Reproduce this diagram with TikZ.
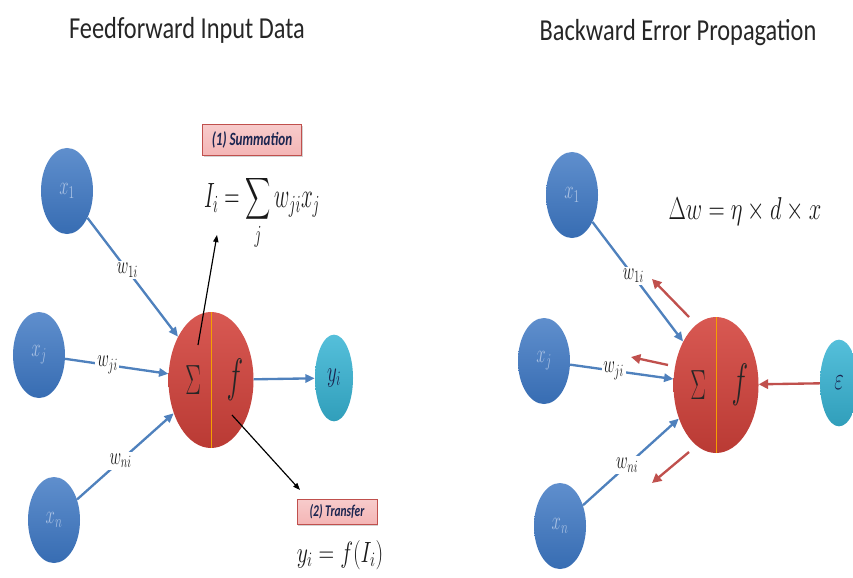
\documentclass[tikz,border=0pt]{standalone}
\usepackage{fix-cm}
\usepackage{amsmath}
\usepackage{graphicx}
\usepackage{fontspec}
\newfontfamily\ttlfont{Carlito}
\usepackage{tikz}
\usetikzlibrary{arrows.meta,positioning,shapes.geometric,calc,shadows}
\definecolor{nnblue}{HTML}{3C76C2}
\definecolor{nnlight}{HTML}{A9C1E3}
\definecolor{nnred}{HTML}{D3423B}
\definecolor{nncyan}{HTML}{37B4D4}
\definecolor{nnnavy}{HTML}{1B2550}
\definecolor{nnline}{HTML}{4F81BD}
\definecolor{nnback}{HTML}{C0504D}
\definecolor{nnorange}{HTML}{F5A000}
\definecolor{nnpink}{HTML}{F4B5B5}
\newcommand{\sq}[2][0.65]{\scalebox{#1}[1]{#2}}
\tikzset{
  ttl/.style={font=\ttlfont\fontsize{26}{28}\selectfont,text=black!85},
  inp/.style={ellipse,minimum width=1.56cm,minimum height=2.58cm,inner sep=0pt,top color=nnblue!82!white,bottom color=nnblue!92!black,text=nnlight,font=\fontsize{22}{24}\selectfont},
  neuron/.style={ellipse,minimum width=2.55cm,minimum height=4.08cm,inner sep=0pt,top color=nnred!88!white,bottom color=nnred!88!black},
  outp/.style={ellipse,minimum width=1.14cm,minimum height=2.6cm,inner sep=0pt,top color=nncyan!85!white,bottom color=nncyan!88!black,text=nnnavy,font=\fontsize{25}{27}\selectfont},
  op/.style={inner sep=0pt,text=black!85},
  divider/.style={draw=nnorange,line width=0.7pt},
  lbl/.style={draw=nnback,thick,top color=nnpink!70!white,bottom color=nnpink,drop shadow={opacity=0.35,shadow xshift=1.2pt,shadow yshift=-1.2pt},text=nnnavy,inner sep=2pt},
  fml/.style={inner sep=0pt,text=black!90},
  wl/.style={fill=white,inner sep=1.5pt,text=black!90,font=\fontsize{21}{23}\selectfont},
  fw/.style={-{Triangle[length=8pt,width=7pt]},draw=nnline,line width=2pt},
  bw/.style={-{Triangle[length=8pt,width=8pt]},draw=nnback,line width=2pt},
  note/.style={-{Triangle[length=6pt,width=4.5pt]},draw=black,line width=1pt},
}
\begin{document}
\begin{tikzpicture}[x=0.03cm,y=0.03cm]
  \useasboundingbox (0,0) rectangle (853,577);
  \clip (0,0) rectangle (853,577);
  % titles
  \node[ttl] (ttlL) at (187,547) {\sq[0.8]{Feedforward Input Data}};
  \node[ttl] (ttlR) at (678,544) {\sq[0.8]{Backward Error Propagation}};

  % feedforward
  \node[inp] (x1L) at (67,386) {\sq{$x_1$}};
  \node[inp] (xjL) at (39,222) {\sq{$x_j$}};
  \node[inp] (xnL) at (54,57) {\sq{$x_n$}};
  \node[neuron] (sumL) at (211,197) {};
  \draw[divider] (sumL.north) -- (sumL.south);
  \node[op,font=\fontsize{36}{38}\selectfont] (sigL) at ([xshift=-0.54cm]sumL.center) {\sq[0.55]{$\Sigma$}};
  \node[op,font=\fontsize{40}{42}\selectfont] (fL) at ([xshift=0.72cm]sumL.center) {\sq[0.6]{$f$}};
  \node[outp] (yiL) at (334,199) {\sq{$y_i$}};
  \draw[fw] (x1L) -- node[wl,pos=0.44] (w1L) {\sq{$w_{1i}$}} (sumL);
  \draw[fw] (xjL) -- node[wl,pos=0.41] (wjL) {\sq{$w_{ji}$}} (sumL);
  \draw[fw] (xnL) -- node[wl,pos=0.45] (wnL) {\sq{$w_{ni}$}} (sumL);
  \draw[fw] (sumL) -- (yiL);

  % summation and transfer notes
  \node[lbl,minimum width=2.95cm,minimum height=0.95cm,font=\ttlfont\bfseries\itshape\fontsize{16}{18}\selectfont] (sumbox) at (252,437) {\sq[0.7]{(1) Summation}};
  \node[fml,font=\fontsize{30}{32}\selectfont] (sumfml) at (262,364) {\sq[0.6]{$\displaystyle I_i=\sum_j w_{ji}x_j$}};
  \coordinate (sumin) at ($(sumL.center)+(-13,35)$);
  \coordinate (sumtip) at (217,342);
  \draw[note] (sumin) -- (sumtip);
  \node[lbl,minimum width=2.4cm,minimum height=0.75cm,font=\ttlfont\bfseries\itshape\fontsize{14}{16}\selectfont] (trbox) at (337,65) {\sq[0.7]{(2) Transfer}};
  \node[fml,font=\fontsize{25}{27}\selectfont] (trfml) at (340,22) {\sq[0.74]{$y_i=f(I_i)$}};
  \coordinate (trin) at ($(sumL.center)+(21,-35)$);
  \coordinate (trtip) at (300,87);
  \draw[note] (trin) -- (trtip);

  % backward
  \node[fml,font=\fontsize{27}{29}\selectfont] (dwfml) at (745,365) {\sq[0.71]{$\Delta w=\eta\times d\times x$}};
  \node[inp] (x1R) at (572,382) {\sq{$x_1$}};
  \node[inp] (xjR) at (544,216) {\sq{$x_j$}};
  \node[inp] (xnR) at (560,51) {\sq{$x_n$}};
  \node[neuron] (sumR) at (716,192) {};
  \draw[divider] (sumR.north) -- (sumR.south);
  \node[op,font=\fontsize{36}{38}\selectfont] (sigR) at ([xshift=-0.54cm]sumR.center) {\sq[0.55]{$\Sigma$}};
  \node[op,font=\fontsize{40}{42}\selectfont] (fR) at ([xshift=0.72cm]sumR.center) {\sq[0.6]{$f$}};
  \node[outp,font=\fontsize{27}{29}\selectfont] (epsR) at (839,194) {\sq{$\varepsilon$}};
  \draw[fw] (x1R) -- node[wl,pos=0.45] (w1R) {\sq{$w_{1i}$}} (sumR);
  \draw[fw] (xjR) -- node[wl,pos=0.42] (wjR) {\sq{$w_{ji}$}} (sumR);
  \draw[fw] (xnR) -- node[wl,pos=0.46] (wnR) {\sq{$w_{ni}$}} (sumR);
  \draw[bw] (epsR) -- (sumR);
  \coordinate (b1s) at (689,260); \coordinate (b1e) at (652,298);
  \coordinate (bjs) at (668,212); \coordinate (bje) at (631,220);
  \coordinate (bns) at (689,125); \coordinate (bne) at (652,94);
  \draw[bw] (b1s) -- (b1e);
  \draw[bw] (bjs) -- (bje);
  \draw[bw] (bns) -- (bne);
\end{tikzpicture}
\end{document}
